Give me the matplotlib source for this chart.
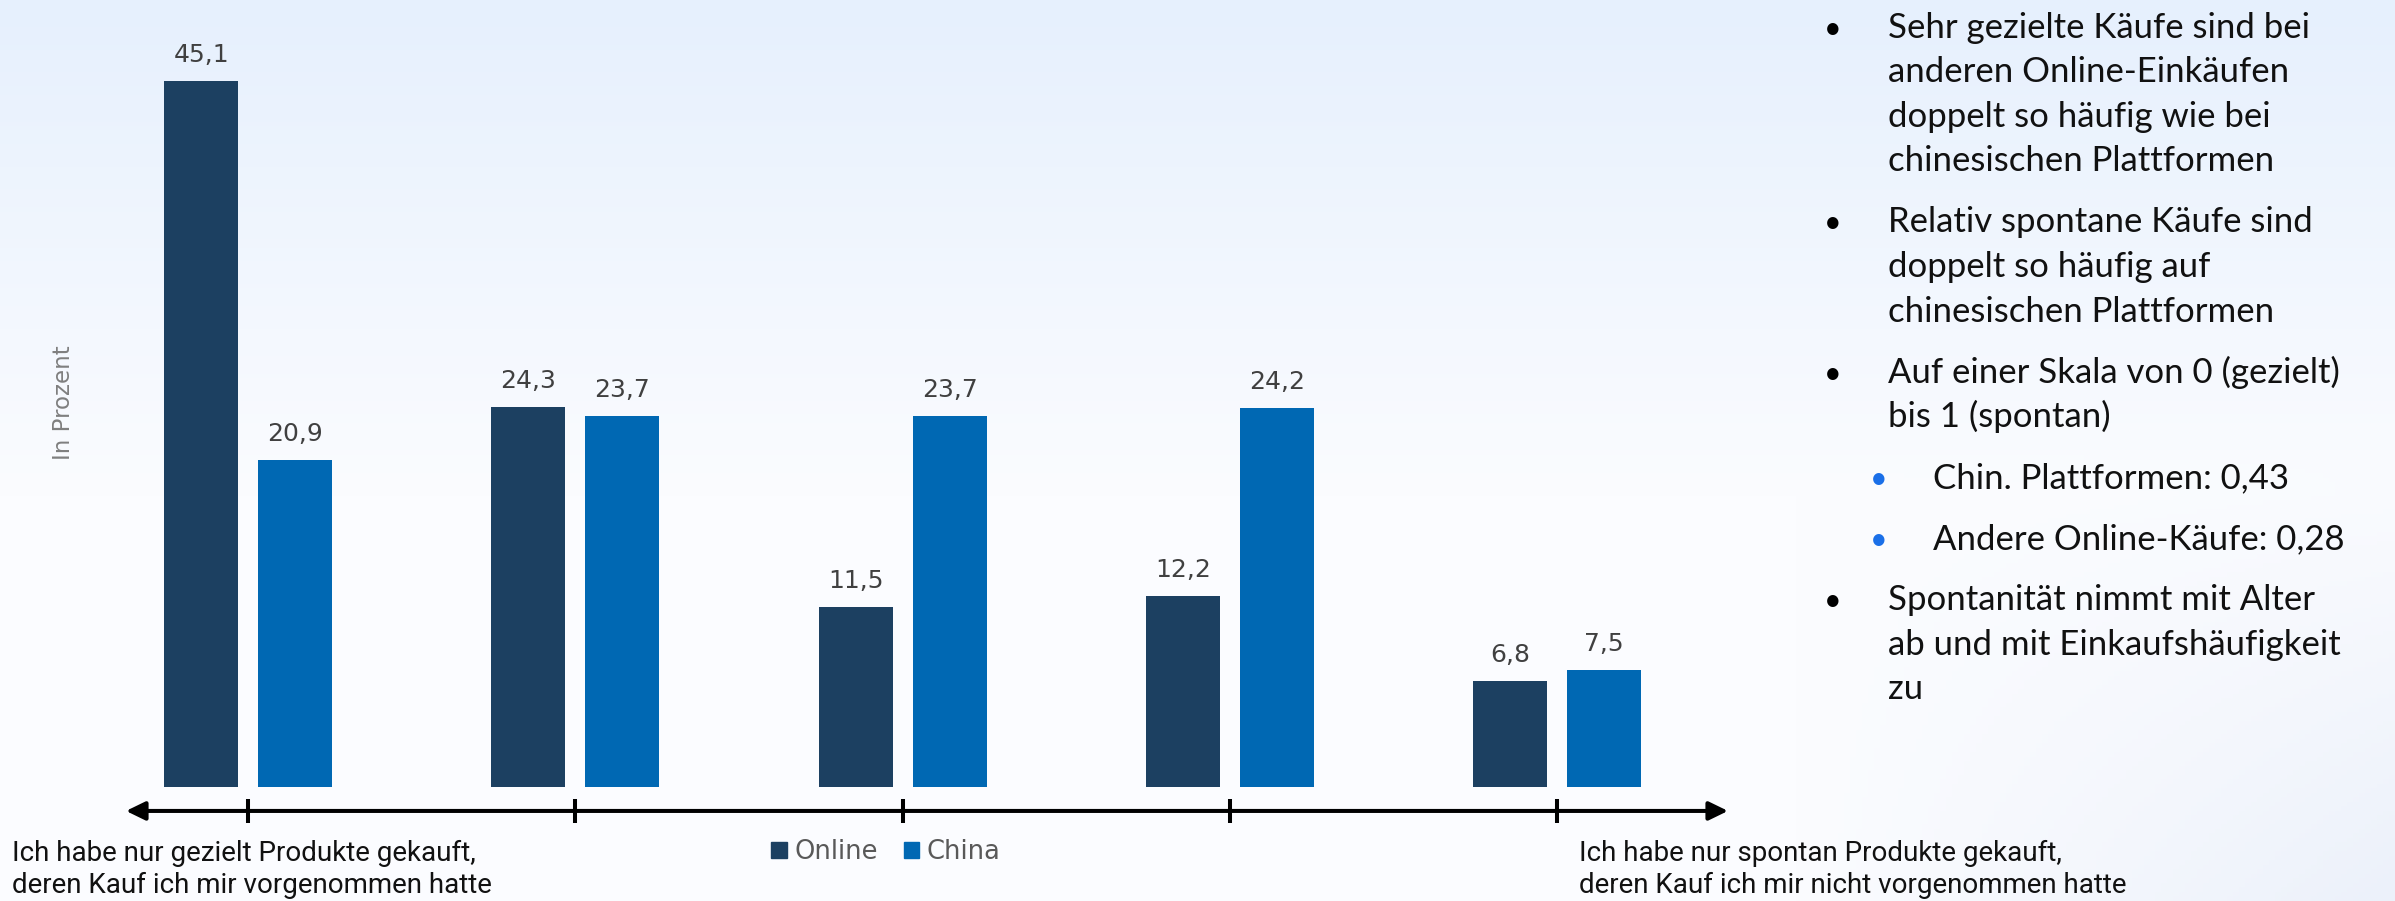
import numpy as np
import matplotlib.pyplot as plt
from matplotlib.patches import Patch

# Daten
kategorien = ["gezielt", "eher gezielt", "neutral", "eher spontan", "spontan"]
online = [45.1, 24.3, 11.5, 12.2, 6.8]
china = [20.9, 23.7, 23.7, 24.2, 7.5]
serien = ["Online", "China"]
farben = ["#1c4061", "#0068b3"]

links_text = ["Ich habe nur gezielt Produkte gekauft,",
              "deren Kauf ich mir vorgenommen hatte"]
rechts_text = ["Ich habe nur spontan Produkte gekauft,",
               "deren Kauf ich mir nicht vorgenommen hatte"]
ylabel = "In Prozent"

# (Ebene, Zeilen)
stichpunkte = [
    (0, ["Sehr gezielte Käufe sind bei", "anderen Online-Einkäufen",
         "doppelt so häufig wie bei", "chinesischen Plattformen"]),
    (0, ["Relativ spontane Käufe sind", "doppelt so häufig auf",
         "chinesischen Plattformen"]),
    (0, ["Auf einer Skala von 0 (gezielt)", "bis 1 (spontan)"]),
    (1, ["Chin. Plattformen: 0,43"]),
    (1, ["Andere Online-Käufe: 0,28"]),
    (0, ["Spontanität nimmt mit Alter", "ab und mit Einkaufshäufigkeit", "zu"]),
]

W, H = 2395, 901
fig = plt.figure(figsize=(W / 100, H / 100), dpi=100)


def px(x, y):
    return x / W, 1 - y / H


# Hintergrund (Verlauf)
yy, xx = np.mgrid[0:1:200j, 0:1:400j]
top = np.array([230, 240, 253]) / 255
mid = np.array([251, 252, 255]) / 255
corner = np.array([236, 241, 250]) / 255
t = np.clip(yy / 0.55, 0, 1)[..., None]
img = top * (1 - t) + mid * t
w = (np.clip((xx - 0.75) / 0.25, 0, 1) * np.clip((yy - 0.5) / 0.5, 0, 1))[..., None]
img = img * (1 - w) + corner * w
bg = fig.add_axes([0, 0, 1, 1])
bg.imshow(img, aspect="auto", extent=[0, 1, 0, 1], origin="upper")
bg.axis("off")

# Balken
x0, x1 = 126, 1728
ybot = 787
ax = fig.add_axes([x0 / W, (H - ybot) / H, (x1 - x0) / W, 782.5 / H])
ax.patch.set_alpha(0)
ax.set_xlim(-0.373, 4.522)
ax.set_ylim(0, 50)
ax.axis("off")

x = np.arange(len(kategorien))
bw = 0.226
off = 0.1436
for vals, dx, col in [(online, -off, farben[0]), (china, off, farben[1])]:
    bars = ax.bar(x + dx, vals, width=bw, color=col, zorder=3)
    for b, v in zip(bars, vals):
        ax.annotate(f"{v:.1f}".replace(".", ","), (b.get_x() + b.get_width() / 2, v),
                    xytext=(0, 13.7), textcoords="offset points",
                    ha="center", va="baseline", fontsize=18, color="#404040")

# Achse mit Pfeilen
ya = -1.53
ax.annotate("", xy=(ax.get_xlim()[0], ya), xytext=(ax.get_xlim()[1], ya),
            arrowprops=dict(arrowstyle="<|-|>,head_length=1.15,head_width=0.56",
                            color="black", lw=2.9, shrinkA=0, shrinkB=0),
            annotation_clip=False)
ax.vlines(x, ya - 0.77, ya + 0.77, color="black", lw=2.9, clip_on=False)

# Achsentitel
fig.text(*px(64, 403), ylabel, rotation=90, ha="center", va="center",
         fontsize=16.5, color="#7f7f7f")

# Beschriftung unten
for tx, zeilen in [(12, links_text), (1579, rechts_text)]:
    for j, z in enumerate(zeilen):
        fig.text(*px(tx, 861 + j * 32), z, ha="left", va="baseline", fontsize=20,
                 family="Roboto", color="#111111")

# Legende
handles = [Patch(color=c, label=s) for s, c in zip(serien, farben)]
fig.legend(handles=handles, loc="center", bbox_to_anchor=px(886, 852), ncol=2,
           frameon=False, fontsize=18.5, handlelength=0.6, handleheight=0.6,
           handletextpad=0.3, columnspacing=1.0, labelcolor="#595959")

# Stichpunkte rechts
y = 37.6
for i, (ebene, zeilen) in enumerate(stichpunkte):
    if i > 0:
        y += 61
    bx = 1833 if ebene == 0 else 1879
    tx = 1888 if ebene == 0 else 1933
    bcol = "black" if ebene == 0 else "#1a6fe8"
    fig.text(*px(bx, y), "•", ha="center", va="baseline", fontsize=22,
             color=bcol, family="Lato")
    for j, z in enumerate(zeilen):
        if j > 0:
            y += 44.6
        fig.text(*px(tx, y), z, ha="left", va="baseline", fontsize=25,
                 family="Lato", color="#111111")

fig.savefig("out.png", dpi=100)
